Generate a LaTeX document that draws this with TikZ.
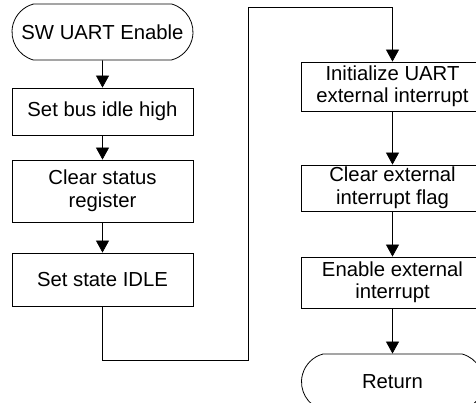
\documentclass[tikz,border=0pt]{standalone}
\usepackage{fontspec}
\setmainfont{Liberation Sans}
\usetikzlibrary{arrows.meta,shapes.misc}

\begin{document}
\begin{tikzpicture}[x=1pt,y=-1pt,
  every node/.style={font=\fontsize{20.3}{22.5}\selectfont, align=center, inner sep=0pt},
  procbox/.style={draw, line width=0.8pt, rectangle, minimum width=181pt},
  termbox/.style={draw, line width=0.8pt, rounded rectangle, rounded rectangle arc length=150,
                  minimum width=181pt, minimum height=56pt},
  flow/.style={draw, line width=0.8pt, -{Triangle[width=13pt,length=12pt]}}
]
\useasboundingbox (0,0) rectangle (476,403);
\clip (0,0) rectangle (476,403);

% left column
\node[termbox] (start) at (102.5,32) {SW UART Enable};
\node[procbox, minimum height=47pt] (idle) at (102.5,111.5) {Set bus idle high};
\node[procbox, minimum height=62pt] (clrst) at (102.5,191) {Clear status\\register};
\node[procbox, minimum height=53pt] (state) at (102.5,279.5) {Set state IDLE};

% right column
\node[procbox, minimum width=182pt, minimum height=49pt] (init) at (392.5,86.5) {Initialize UART\\external interrupt};
\node[procbox, minimum width=182pt, minimum height=46pt] (clrflag) at (392.5,188) {Clear external\\interrupt flag};
\node[procbox, minimum width=182pt, minimum height=51pt] (enable) at (392.5,282.5) {Enable external\\interrupt};
\node[termbox, minimum width=182pt] (ret) at (392.5,382) {Return};

% bends of the long connector between the columns
\coordinate (lowbend) at (248,360);
\coordinate (highbend) at (248,7);

\draw[flow] (start) -- (idle);
\draw[flow] (idle) -- (clrst);
\draw[flow] (clrst) -- (state);
\draw[flow] (state.south) |- (lowbend) -- (highbend) -| (init.north);
\draw[flow] (init) -- (clrflag);
\draw[flow] (clrflag) -- (enable);
\draw[flow] (enable) -- (ret);
\end{tikzpicture}
\end{document}
